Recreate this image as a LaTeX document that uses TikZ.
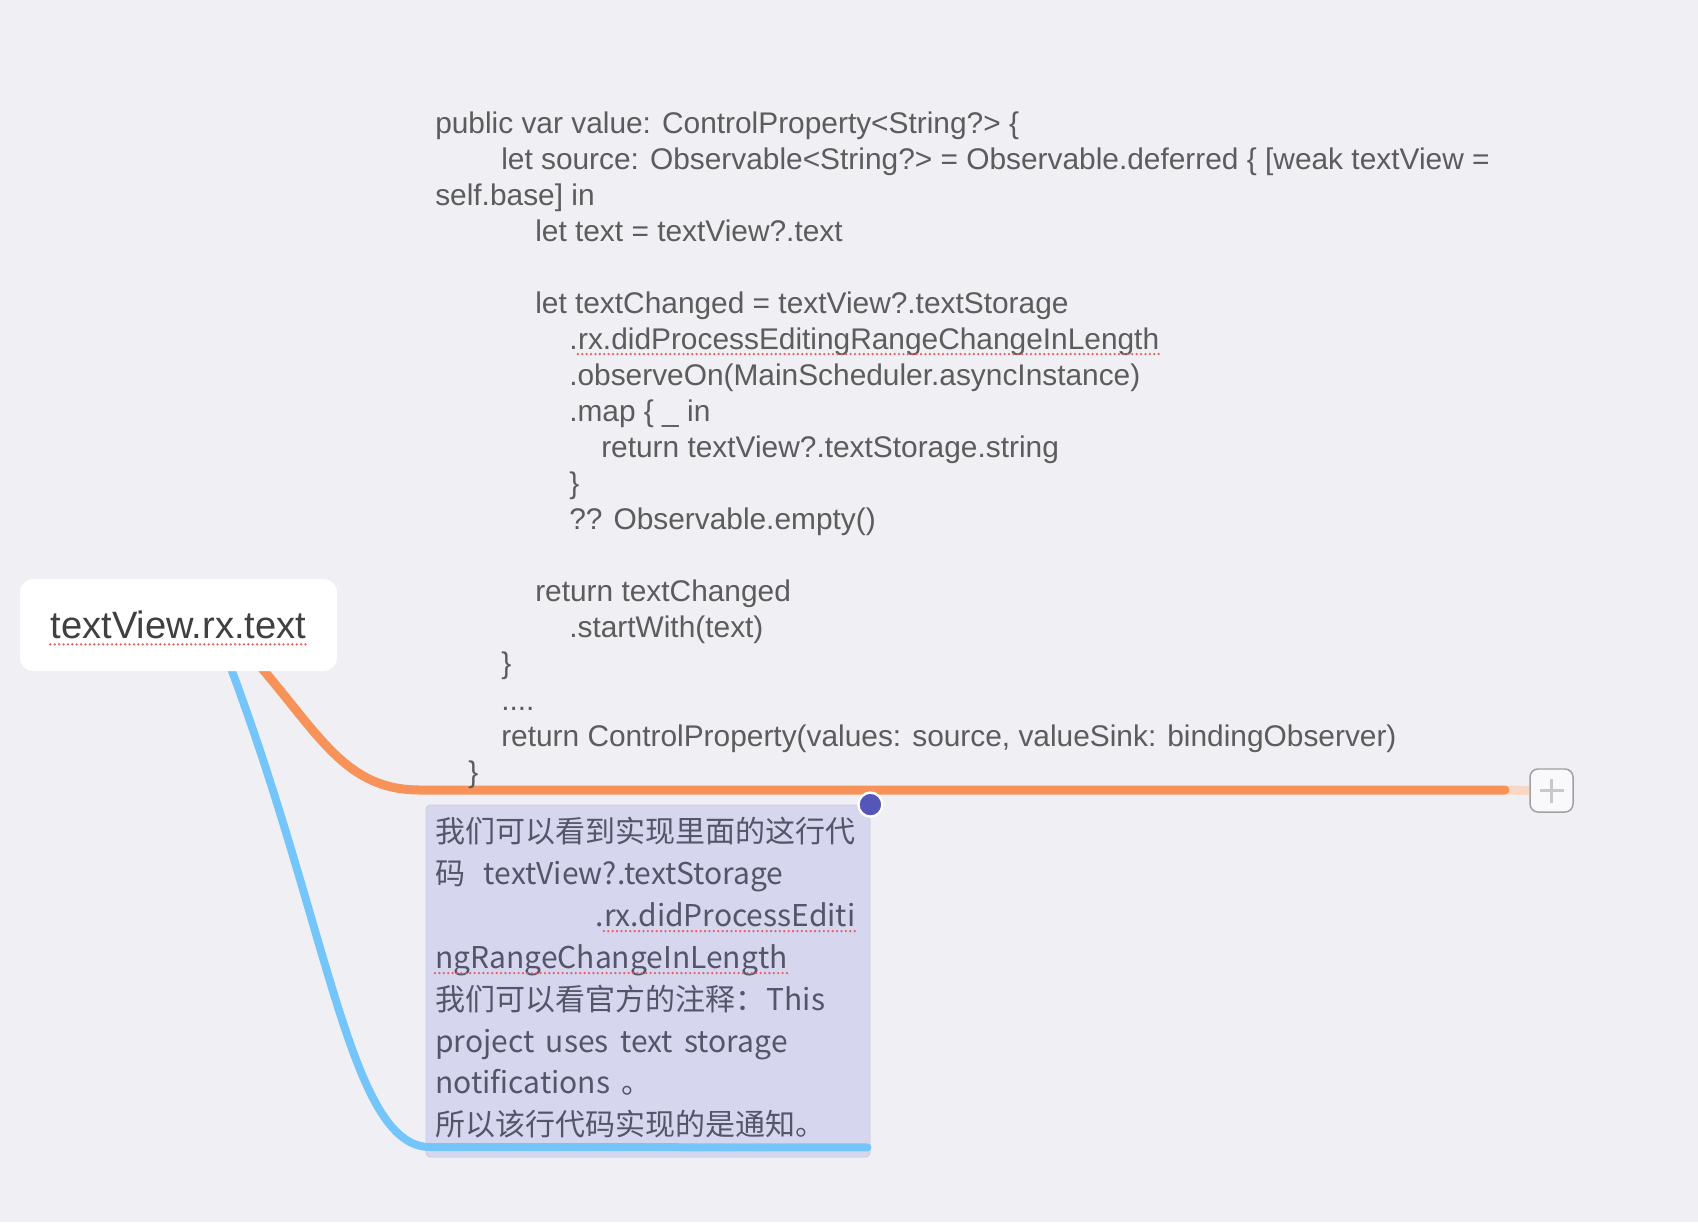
\documentclass[tikz,border=0pt]{standalone}
\usepackage{fontspec}
\setmainfont{Liberation Sans}
\newfontfamily\cjk[WordSpace=1.7]{Noto Sans CJK SC}
\newcommand\mycodefont{\fontsize{22.4pt}{26pt}\selectfont}
\newcommand\mynotefont{\cjk\fontsize{22.5pt}{27pt}\selectfont}
\newcommand\myrootfont{\fontsize{28.6pt}{32pt}\selectfont}
\definecolor{bg}{HTML}{EFEFF4}
\definecolor{codegray}{HTML}{5C5C5C}
\definecolor{notegray}{HTML}{55556A}
\definecolor{rootgray}{HTML}{404040}
\definecolor{orangeC}{HTML}{F79358}
\definecolor{blueC}{HTML}{74C6FA}
\definecolor{notefill}{HTML}{D6D7EE}
\definecolor{notedraw}{HTML}{C9CAE6}
\definecolor{dotblue}{HTML}{5557B8}
\definecolor{ulred}{HTML}{E85D5D}
\definecolor{fadeC}{HTML}{F8D8C4}
\definecolor{plusdraw}{HTML}{A0A0A0}
\definecolor{plussignC}{HTML}{C8C8C8}
\pgfdeclarelayer{layerbg}
\pgfdeclarelayer{layerlines}
\pgfsetlayers{layerbg,layerlines,main}
\begin{document}
\begin{tikzpicture}[x=0.75pt,y=-0.75pt,
  code/.style={anchor=base west, inner sep=0pt, font=\mycodefont, text=codegray},
  notetxt/.style={anchor=base west, inner sep=0pt, font=\mynotefont, text=notegray},
  rootbox/.style={draw=none, fill=white, rounded corners=10pt, minimum width=237.75pt, minimum height=69pt, inner sep=0pt},
  roottxt/.style={inner sep=0pt, font=\myrootfont, text=rootgray},
  notebox/.style={fill=notefill, draw=notedraw, line width=0.6pt, rounded corners=3pt, minimum width=333pt, minimum height=264pt, inner sep=0pt},
  plusbox/.style={fill=white!60!bg, draw=plusdraw, line width=1.1pt, rounded corners=6pt, minimum size=32.25pt, inner sep=0pt},
  plussign/.style={draw=plussignC, line width=1.8pt},
  dotnode/.style={circle, fill=dotblue, draw=white, line width=1.8pt, minimum size=18pt, inner sep=0pt},
  orangeline/.style={draw=orangeC, line width=6.75pt, line cap=round},
  blueline/.style={draw=blueC, line width=6pt, line cap=round},
  fadeline/.style={draw=fadeC, line width=6.75pt},
  ul/.style={draw=ulred, line width=1.9pt, dash pattern=on 0pt off 3.3pt, line cap=round}
]
\begin{pgfonlayer}{layerbg}
\fill[bg] (0,0) rectangle (1698,1222);
\node[notebox] (note) at (648,981) {};
\end{pgfonlayer}
\useasboundingbox (0,0) rectangle (1698,1222);

% root
\node[rootbox] (root) at (178.5,625) {};
\node[roottxt] (roottext) at (root.center) {textView.rx.text};
\draw[ul] ([yshift=-3.8pt]roottext.south west) -- ([yshift=-3.8pt]roottext.south east);

% code text
\node[code] (c0) at (435,133) {public var value: ControlProperty<String?> \{};
\node[code] (c1) at (501,169) {let source: Observable<String?> = Observable.deferred \{ [weak textView =};
\node[code] (c2) at (435,205) {self.base] in};
\node[code] (c3) at (535,241) {let text = textView?.text};
\node[code] (c5) at (535,313) {let textChanged = textView?.textStorage};
\node[code] (c6a) at (569,349) {.};
\node[code] (c6b) at (c6a.base east) {rx.didProcessEditingRangeChangeInLength};
\node[code] (c7) at (569,385) {.observeOn(MainScheduler.asyncInstance)};
\node[code] (c8) at (569,421) {.map \{ \_ in};
\node[code] (c9) at (601,457) {return textView?.textStorage.string};
\node[code] (c10) at (569,493) {\}};
\node[code] (c11) at (569,529) {?? Observable.empty()};
\node[code] (c13) at (535,601) {return textChanged};
\node[code] (c14) at (569,637) {.startWith(text)};
\node[code] (c15) at (501,673) {\}};
\node[code] (c16) at (501,710) {....};
\node[code] (c17) at (501,746) {return ControlProperty(values: source, valueSink: bindingObserver)};
\node[code] (c18) at (468,782) {\}};
\draw[ul] ([yshift=-3.8pt]c6b.base west) -- ([yshift=-3.8pt]c6b.base east);

% connectors
\coordinate (oend) at (1505,790);
\node[plusbox] (plus) at (1551.5,790.5) {};
\draw[plussign] ([xshift=-9pt]plus.center) -- ([xshift=9pt]plus.center);
\draw[plussign] ([yshift=-9pt]plus.center) -- ([yshift=9pt]plus.center);
\begin{pgfonlayer}{layerlines}
\draw[fadeline] (oend) -- (plus.west);
\draw[orangeline] ([xshift=57.4pt,yshift=8.25pt]root.south) .. controls (320,735) and (345,790) .. (420,790) -- (oend);
\draw[blueline] ([xshift=37.1pt,yshift=8.25pt]root.south) .. controls (330,930) and (350,1147) .. (430,1147) -- ([xshift=-2.25pt,yshift=7.5pt]note.south east);
\end{pgfonlayer}

% note text
\node[notetxt] (n1) at (435,842) {我们可以看到实现里面的这行代};
\node[notetxt] (n2) at (435,884) {码\hspace{14pt}textView?.textStorage};
\node[notetxt] (n3a) at (595,926) {.};
\node[notetxt] (n3b) at (n3a.base east) {rx.didProcessEditi};
\node[notetxt] (n4) at (435,968) {ngRangeChangeInLength};
\node[notetxt] (n5) at (435,1010) {我们可以看官方的注释：\hspace{1pt}This};
\node[notetxt] (n6) at (435,1052) {project uses text storage};
\node[notetxt] (n7) at (435,1093) {notifications 。};
\node[notetxt] (n8) at (435,1135) {所以该行代码实现的是通知。};
\draw[ul] ([yshift=-3.8pt]n3b.base west) -- ([yshift=-3.8pt]n3b.base east);
\draw[ul] ([yshift=-3.8pt]n4.base west) -- ([yshift=-3.8pt]n4.base east);

% dot
\node[dotnode] (dot) at (note.north east) {};
\end{tikzpicture}
\end{document}
